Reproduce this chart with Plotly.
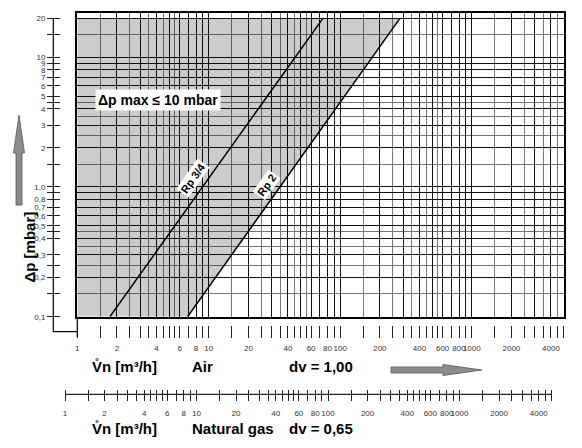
import numpy as np
import plotly.graph_objects as go

# pressure loss lines, log-log straight lines between the two end points
dp_ends = [0.1, 20]
rp34_flow = [1.77, 74]
rp2_flow = [6.9, 285]

# grid / scale values
flow_decades = [1, 10, 100, 1000]
flow_major = [1, 2, 3, 4, 5, 6, 7, 8, 9]
flow_half = [1.5, 2.5, 3.5, 4.5, 5.5]
flow_max = 5000
flow_labels = [1, 2, 4, 6, 8, 10, 20, 40, 60, 80, 100, 200, 400, 600, 800, 1000, 2000, 4000]

dp_decades = [0.1, 1, 10]
dp_major = [1, 2, 3, 4, 5, 6, 7, 8, 9]
dp_half = [1.5, 2.5, 3.5, 4.5]
dp_max = 20
dp_top = 22
dp_tick_vals = [0.1, 0.15, 0.2, 0.25, 0.3, 0.4, 0.45, 0.5, 0.6, 0.7, 0.8, 0.9,
                1, 1.5, 2, 3, 4, 4.5, 5, 6, 7, 8, 9, 10, 15, 20]
dp_tick_text = ["0,1", "", "0,2", "", "0,3", "0,4", "", "0,5", "0,6", "0,7", "0,8", "",
                "1,0", "", "2", "3", "4", "", "5", "6", "7", "8", "9", "10", "", "20"]

# page body keeps an 8px margin, so the figure is drawn 8px in from the window corner
PAD = 8
W, H = 582 - 2 * PAD, 448 - 2 * PAD
FONT = "Liberation Sans, Arial, sans-serif"


def fx(px):
    return (px - PAD) / W


def fy(py):
    return 1 - (py - PAD) / H


def path(pts, close=True):
    s = "M " + " L ".join(f"{fx(x):.5f},{fy(y):.5f}" for x, y in pts)
    return s + (" Z" if close else "")


def scale(mants, decades, top):
    return sorted(round(m * d, 6) for d in decades for m in mants if m * d <= top + 1e-9)


x_major = scale(flow_major, flow_decades, flow_max)
x_half = scale(flow_half, flow_decades, flow_max)
x_all = sorted(x_major + x_half)
x_text = [str(int(v)) if v in flow_labels else "" for v in x_all]
y_major = scale(dp_major, dp_decades, dp_max)
y_half = scale(dp_half, dp_decades, dp_max)

xr = [0, np.log10(flow_max)]
yr = [np.log10(dp_ends[0]), np.log10(dp_top)]

fig = go.Figure()

# shaded area left of Rp 2
fig.add_trace(go.Scatter(x=[flow_labels[0], rp2_flow[0], rp2_flow[1], flow_labels[0]],
                         y=[dp_ends[0], dp_ends[0], dp_ends[1], dp_ends[1]],
                         fill='toself', fillcolor='rgba(0,0,0,0.2)', mode='lines',
                         line=dict(width=0), hoverinfo='skip', showlegend=False))
fig.add_trace(go.Scatter(x=rp34_flow, y=dp_ends, mode='lines',
                         line=dict(color='black', width=1.5), showlegend=False))
fig.add_trace(go.Scatter(x=rp2_flow, y=dp_ends, mode='lines',
                         line=dict(color='black', width=1.5), showlegend=False))
# empty traces so the extra scales exist
fig.add_trace(go.Scatter(x=[], y=[], xaxis='x2', yaxis='y', showlegend=False))
fig.add_trace(go.Scatter(x=[], y=[], xaxis='x', yaxis='y2', showlegend=False))
fig.add_trace(go.Scatter(x=[], y=[], xaxis='x3', yaxis='y3', showlegend=False))

tickfont = dict(family=FONT, size=8, color='#333')
air_dom = [fx(77.3), fx(563.7)]
gas_dom = [fx(65), fx(65 + np.log10(flow_max) * 131.5)]

fig.update_layout(
    width=W, height=H, margin=dict(l=0, r=0, t=0, b=0),
    paper_bgcolor='white', plot_bgcolor='rgba(0,0,0,0)', showlegend=False,
    xaxis=dict(type='log', range=xr, domain=air_dom, anchor='y',
               tickmode='array', tickvals=x_major, showticklabels=False, ticks='',
               showgrid=True, gridcolor='#111', gridwidth=1,
               minor=dict(tickmode='array', tickvals=x_half, showgrid=True,
                          gridcolor='#777', gridwidth=1, ticks=''),
               showline=True, mirror=True, linecolor='black', linewidth=1.5,
               zeroline=False, layer='above traces', automargin=False),
    yaxis=dict(type='log', range=yr, domain=[fy(316.7), fy(12.7)], anchor='x',
               tickmode='array', tickvals=y_major, showticklabels=False, ticks='',
               showgrid=True, gridcolor='#111', gridwidth=1,
               minor=dict(tickmode='array', tickvals=y_half, showgrid=True,
                          gridcolor='#777', gridwidth=1, ticks=''),
               showline=True, mirror=True, linecolor='black', linewidth=1.5,
               zeroline=False, layer='above traces', automargin=False),
    xaxis2=dict(type='log', range=xr, overlaying='x', anchor='free', position=fy(325),
                side='bottom', tickmode='array', tickvals=x_all, ticktext=x_text,
                ticks='outside', ticklen=12, tickwidth=1, tickcolor='#222', tickangle=0,
                tickfont=tickfont, ticklabelstandoff=3, showgrid=False,
                showline=False, zeroline=False, automargin=False),
    yaxis2=dict(type='log', range=yr, overlaying='y', anchor='free', position=fx(60),
                side='left', tickmode='array', tickvals=dp_tick_vals, ticktext=dp_tick_text,
                ticks='outside', ticklen=13, tickwidth=1, tickcolor='#222',
                tickfont=dict(family=FONT, size=8, color='#333'), showgrid=False,
                showline=False, zeroline=False, automargin=False),
    xaxis3=dict(type='log', range=xr, domain=gas_dom, anchor='free', position=fy(389),
                side='bottom', tickmode='array', tickvals=x_all, ticktext=x_text,
                ticks='outside', ticklen=11, tickwidth=1, tickcolor='#222', tickangle=0,
                tickfont=tickfont, ticklabelstandoff=5, showgrid=False,
                showline=False, zeroline=False, automargin=False),
    yaxis3=dict(domain=[0, 0.02], anchor='x3', visible=False, range=[0, 1]),
)

# scale lines and arrows
line = dict(color='black', width=1.2)
fig.add_shape(type='path', xref='paper', yref='paper', line=line,
              path=path([(53.3, 18), (53.3, 331.7), (77.3, 331.7)], close=False))
fig.add_shape(type='path', xref='paper', yref='paper', line=line,
              path=path([(77.3, 316.7), (77.3, 337)], close=False))
fig.add_shape(type='line', xref='x3', yref='paper', x0=1, x1=flow_max,
              y0=fy(394.3), y1=fy(394.3), line=dict(color='#222', width=1.2))
arrow_style = dict(xref='paper', yref='paper', fillcolor='#8c8c8c',
                   line=dict(color='#555', width=0.8))
fig.add_shape(type='path', path=path([(16, 205), (16, 153), (13.5, 153), (19, 115),
                                      (24.5, 153), (22, 153), (22, 205)]), **arrow_style)
fig.add_shape(type='path', path=path([(391, 367), (443, 367), (443, 364.5), (482, 370),
                                      (443, 375.5), (443, 373), (391, 373)]), **arrow_style)

bold = dict(family=FONT, size=15, color='black', weight='bold')
fig.add_annotation(x=np.log10(4.1), y=np.log10(4.67), xref='x', yref='y',
                   text="Δp max ≤ 10 mbar", showarrow=False, bgcolor='white', borderpad=2,
                   font=dict(family=FONT, size=14, color='black', weight='bold'))
label_font = dict(family=FONT, size=11, color='black', weight='bold')
fig.add_annotation(x=np.log10(7.6), y=np.log10(1.17), xref='x', yref='y', text="Rp 3/4",
                   textangle=-55, showarrow=False, bgcolor='white', borderpad=1, font=label_font)
fig.add_annotation(x=np.log10(27.6), y=np.log10(1.03), xref='x', yref='y', text="Rp 2",
                   textangle=-55, showarrow=False, bgcolor='white', borderpad=1, font=label_font)

fig.add_annotation(x=fx(19), y=fy(247), xref='paper', yref='paper', text="Δp [mbar]",
                   textangle=-90, showarrow=False, font=bold)
for py, words in [(366, ["V\u030An [m³/h]", "Air", "dv = 1,00"]),
                  (428, ["V\u030An [m³/h]", "Natural gas", "dv = 0,65"])]:
    for px, w in zip([90, 190, 287], words):
        fig.add_annotation(x=fx(px), y=fy(py), xref='paper', yref='paper', text=w,
                           xanchor='left', yanchor='middle', showarrow=False, font=bold)

fig.write_html("out.html")
